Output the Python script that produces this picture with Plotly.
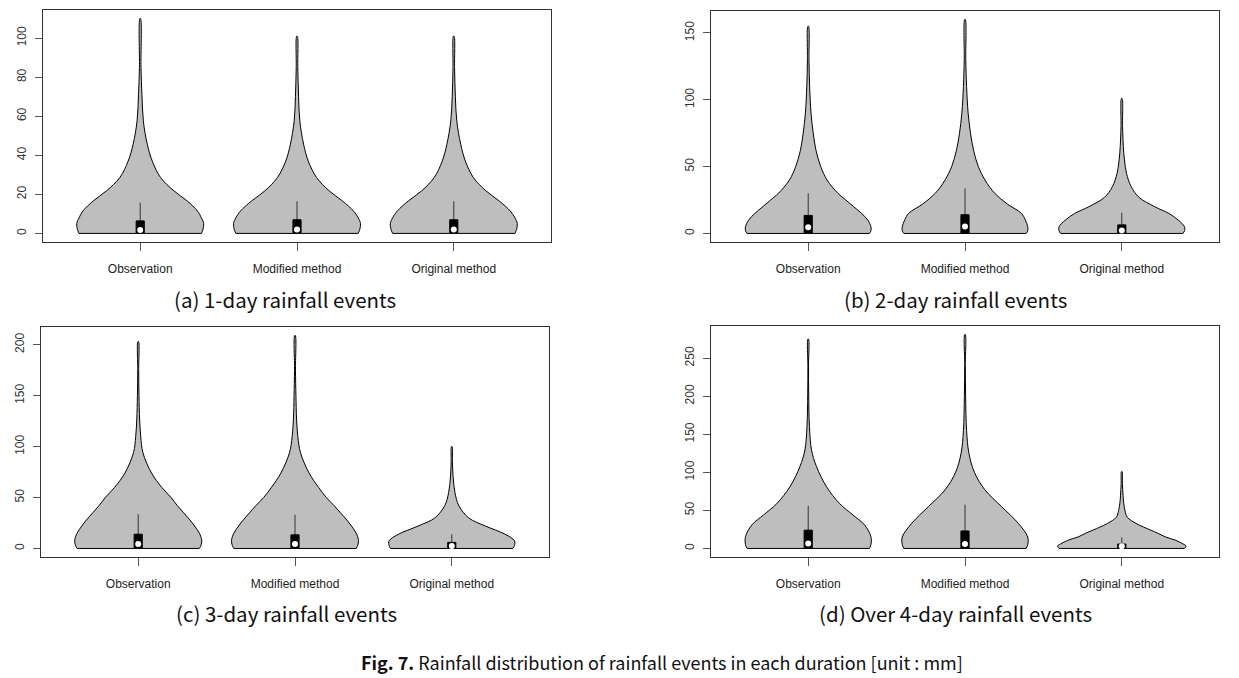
import plotly.graph_objects as go

# ---------------- data ----------------
categories = ["Observation", "Modified method", "Original method"]
captions = ["(a) 1-day rainfall events", "(b) 2-day rainfall events",
            "(c) 3-day rainfall events", "(d) Over 4-day rainfall events"]
fig_caption_bold = "Fig. 7."
fig_caption_text = " Rainfall distribution of rainfall events in each duration [unit : mm]"

# y tick values for each panel
a_ticks = [0, 20, 40, 60, 80, 100]
b_ticks = [0, 50, 100, 150]
c_ticks = [0, 50, 100, 150, 200]
d_ticks = [0, 50, 100, 150, 200, 250]

# violin outlines: rainfall level (mm) and half width of the density (x units)
a_obs_lv = [0, 2, 5, 8, 11.5, 16.6, 21.8, 28.6, 37, 45.7, 57.6, 71, 85, 110]
a_obs_hw = [0.39, 0.40, 0.405, 0.39, 0.365, 0.30, 0.215, 0.13, 0.077, 0.045, 0.02, 0.011, 0.005, 0.002]
a_mod_lv = [0, 2, 5, 8, 11.5, 16.6, 21.8, 28.6, 37, 45.7, 57.6, 70, 85, 101]
a_mod_hw = [0.39, 0.40, 0.405, 0.39, 0.36, 0.29, 0.205, 0.125, 0.072, 0.042, 0.018, 0.01, 0.005, 0.002]
a_org_lv = [0, 2, 5, 8, 11.5, 16.6, 21.8, 28.6, 37, 45.7, 57.6, 70, 85, 101]
a_org_hw = [0.39, 0.40, 0.405, 0.39, 0.36, 0.29, 0.205, 0.125, 0.074, 0.044, 0.019, 0.01, 0.005, 0.002]

b_obs_lv = [0, 2, 5, 10, 15, 20, 25, 30, 40, 50, 62, 75, 90, 110, 130, 155]
b_obs_hw = [0.39, 0.40, 0.40, 0.38, 0.34, 0.29, 0.24, 0.19, 0.12, 0.08, 0.05, 0.032, 0.018, 0.009, 0.005, 0.002]
b_mod_lv = [0, 2, 5, 10, 15, 22, 30, 40, 50, 62, 75, 90, 110, 130, 160]
b_mod_hw = [0.39, 0.40, 0.40, 0.385, 0.36, 0.27, 0.19, 0.127, 0.085, 0.055, 0.035, 0.02, 0.01, 0.005, 0.002]
b_org_lv = [0, 2, 5, 10, 15, 20, 27, 35, 45, 55, 65, 80, 101]
b_org_hw = [0.39, 0.40, 0.40, 0.36, 0.30, 0.21, 0.11, 0.06, 0.03, 0.017, 0.01, 0.005, 0.002]

c_obs_lv = [0, 3, 8, 15, 22, 28, 35, 42, 50, 60, 74, 94, 110, 127, 150, 175, 203]
c_obs_hw = [0.39, 0.40, 0.405, 0.39, 0.36, 0.33, 0.29, 0.25, 0.21, 0.15, 0.085, 0.03, 0.016, 0.009, 0.005, 0.003, 0.002]
c_mod_lv = [0, 3, 8, 15, 22, 28, 35, 42, 50, 60, 74, 94, 110, 127, 150, 175, 209]
c_mod_hw = [0.39, 0.40, 0.405, 0.39, 0.36, 0.33, 0.29, 0.25, 0.20, 0.15, 0.09, 0.035, 0.018, 0.01, 0.006, 0.003, 0.002]
c_org_lv = [0, 3, 7.5, 14, 22, 30, 42, 55, 71, 85, 100]
c_org_hw = [0.39, 0.40, 0.40, 0.34, 0.215, 0.108, 0.045, 0.02, 0.008, 0.004, 0.002]

d_obs_lv = [0, 5, 15.4, 30.8, 44, 59, 81, 107.5, 129.5, 160, 204, 240, 275]
d_obs_hw = [0.39, 0.40, 0.40, 0.36, 0.285, 0.20, 0.117, 0.053, 0.021, 0.008, 0.003, 0.002, 0.002]
d_mod_lv = [0, 5, 15, 33, 55, 77, 100, 125, 155, 200, 240, 281]
d_mod_hw = [0.39, 0.40, 0.40, 0.34, 0.233, 0.127, 0.06, 0.025, 0.01, 0.004, 0.002, 0.002]
d_org_lv = [0, 3, 6, 11, 15, 20, 28, 33, 41, 50, 60, 70, 85, 101]
d_org_hw = [0.40, 0.41, 0.39, 0.34, 0.28, 0.23, 0.14, 0.09, 0.035, 0.02, 0.012, 0.008, 0.004, 0.002]

# box statistics (Observation, Modified method, Original method)
a_q1 = [0.3, 0.3, 0.3]
a_median = [1.7, 2.0, 2.0]
a_q3 = [6.4, 7.0, 7.0]
a_upper = [15.8, 16.4, 16.4]

b_q1 = [0.3, 0.3, 0.3]
b_median = [4.7, 5.2, 2.2]
b_q3 = [13.5, 14.0, 6.4]
b_upper = [30.0, 33.7, 15.5]

c_q1 = [0.3, 0.3, 0.3]
c_median = [4.3, 4.3, 2.5]
c_q3 = [14.0, 13.4, 6.0]
c_upper = [33.6, 33.0, 14.0]

d_q1 = [0.3, 0.3, 0.3]
d_median = [6.6, 5.8, 3.0]
d_q3 = [24.0, 23.0, 5.8]
d_upper = [56.0, 57.5, 14.5]

# ---------------- layout constants ----------------
W, H = 1239, 678
FILL = "#BEBEBE"
BOX_HW = 0.026

panels = [
    dict(lv=[a_obs_lv, a_mod_lv, a_org_lv], hw=[a_obs_hw, a_mod_hw, a_org_hw],
         q1=a_q1, med=a_median, q3=a_q3, up=a_upper, ticks=a_ticks,
         px=(43, 551), py=(10, 242), cap=(285, 299)),
    dict(lv=[b_obs_lv, b_mod_lv, b_org_lv], hw=[b_obs_hw, b_mod_hw, b_org_hw],
         q1=b_q1, med=b_median, q3=b_q3, up=b_upper, ticks=b_ticks,
         px=(711, 1219), py=(11, 242), cap=(955, 299)),
    dict(lv=[c_obs_lv, c_mod_lv, c_org_lv], hw=[c_obs_hw, c_mod_hw, c_org_hw],
         q1=c_q1, med=c_median, q3=c_q3, up=c_upper, ticks=c_ticks,
         px=(41, 549), py=(327, 557), cap=(286, 613)),
    dict(lv=[d_obs_lv, d_mod_lv, d_org_lv], hw=[d_obs_hw, d_mod_hw, d_org_hw],
         q1=d_q1, med=d_median, q3=d_q3, up=d_upper, ticks=d_ticks,
         px=(711, 1219), py=(326, 557), cap=(955, 613)),
]

fig = go.Figure()
layout_axes = {}
annotations = []

for k, p in enumerate(panels, start=1):
    xa = "x" if k == 1 else f"x{k}"
    ya = "y" if k == 1 else f"y{k}"
    ymax = max(max(lv) for lv in p["lv"])
    pad = 0.04 * ymax
    for i, cat in enumerate(categories):
        c = i + 1
        lv, hw = p["lv"][i], p["hw"][i]
        xs = [c + w for w in hw] + [c - w for w in reversed(hw)]
        ys = list(lv) + list(reversed(lv))
        # violin body
        fig.add_trace(go.Scatter(x=xs, y=ys, xaxis=xa, yaxis=ya, mode="lines",
                                 fill="toself", fillcolor=FILL,
                                 line=dict(color="black", width=1, shape="spline", smoothing=1.0),
                                 hoverinfo="skip", showlegend=False))
        # bottom edge
        fig.add_trace(go.Scatter(x=[c - hw[0], c + hw[0]], y=[lv[0], lv[0]], xaxis=xa, yaxis=ya,
                                 mode="lines", line=dict(color="black", width=1),
                                 hoverinfo="skip", showlegend=False))
        # whisker
        fig.add_trace(go.Scatter(x=[c, c], y=[p["q3"][i], p["up"][i]], xaxis=xa, yaxis=ya,
                                 mode="lines", line=dict(color="#333333", width=1),
                                 hoverinfo="skip", showlegend=False))
        # box
        fig.add_trace(go.Scatter(x=[c - BOX_HW, c + BOX_HW, c + BOX_HW, c - BOX_HW, c - BOX_HW],
                                 y=[p["q1"][i], p["q1"][i], p["q3"][i], p["q3"][i], p["q1"][i]],
                                 xaxis=xa, yaxis=ya, mode="lines", fill="toself",
                                 fillcolor="black", line=dict(color="black", width=1),
                                 hoverinfo="skip", showlegend=False))
        # median
        fig.add_trace(go.Scatter(x=[c], y=[p["med"][i]], xaxis=xa, yaxis=ya, mode="markers",
                                 marker=dict(color="white", size=6, line=dict(width=0)),
                                 hoverinfo="skip", showlegend=False))

    x0, x1 = p["px"]
    y0, y1 = p["py"]
    xkey = "xaxis" if k == 1 else f"xaxis{k}"
    ykey = "yaxis" if k == 1 else f"yaxis{k}"
    layout_axes[xkey] = dict(
        domain=[x0 / W, x1 / W], anchor=ya, range=[0.38, 3.62],
        tickmode="array", tickvals=[1, 2, 3], ticktext=categories,
        ticks="outside", ticklen=8, tickcolor="#555555", tickwidth=1,
        showline=True, linecolor="#333333", linewidth=1, mirror=True,
        showgrid=False, zeroline=False, ticklabelstandoff=8, fixedrange=True,
        tickfont=dict(family="Liberation Sans Narrow, Arial Narrow, Liberation Sans, Arial",
                      size=12, color="#222222"))
    layout_axes[ykey] = dict(
        domain=[1 - y1 / H, 1 - y0 / H], anchor=xa, range=[-pad, ymax + pad],
        tickmode="array", tickvals=p["ticks"], tickangle=-90,
        ticks="outside", ticklen=7, tickcolor="#555555", tickwidth=1,
        showline=True, linecolor="#333333", linewidth=1, mirror=True,
        showgrid=False, zeroline=False, ticklabelstandoff=4, fixedrange=True,
        tickfont=dict(family="Liberation Sans, Arial", size=12, color="#333333"))
    cx, cy = p["cap"]
    annotations.append(dict(text=captions[k - 1], x=cx / W, y=1 - cy / H, xref="paper", yref="paper",
                            showarrow=False, xanchor="center", yanchor="middle",
                            font=dict(family="Noto Sans CJK KR, Noto Sans", size=20.5, color="#111111")))

annotations.append(dict(text=f"<b>{fig_caption_bold}</b>{fig_caption_text}",
                        x=662 / W, y=1 - 662 / H, xref="paper", yref="paper",
                        showarrow=False, xanchor="center", yanchor="middle",
                        font=dict(family="Noto Sans CJK KR, Noto Sans", size=18, color="#111111")))

fig.update_layout(width=W, height=H, margin=dict(l=0, r=0, t=0, b=0),
                  paper_bgcolor="white", plot_bgcolor="white",
                  annotations=annotations, **layout_axes)

fig.write_html("out.html", config={"displayModeBar": False},
               post_script="document.body.style.margin='0';document.body.style.overflow='hidden';")
